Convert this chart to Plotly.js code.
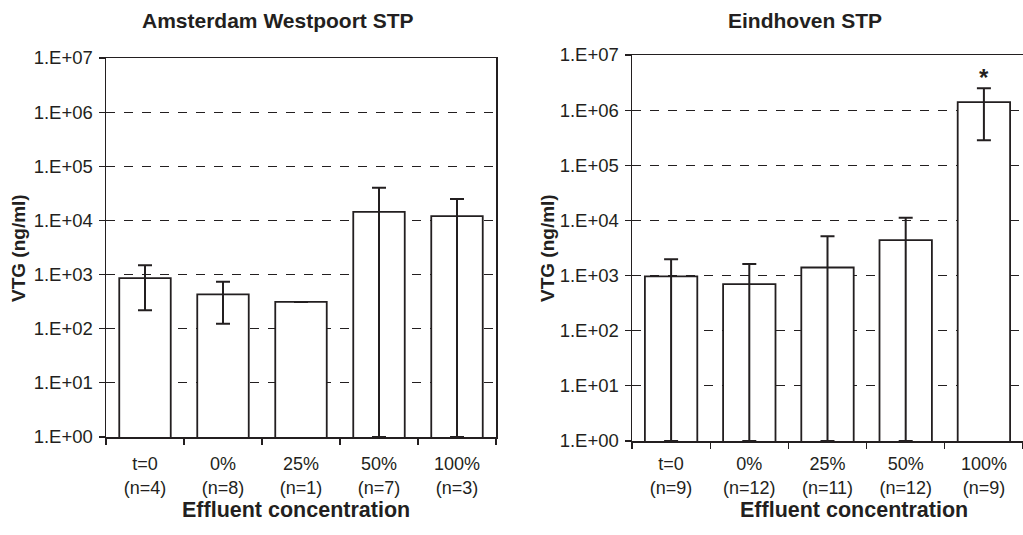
<!DOCTYPE html>
<html>
<head>
<meta charset="utf-8">
<script src="https://cdn.plot.ly/plotly-3.0.1.min.js"></script>
<style>html,body{margin:0;padding:0;background:#fff;overflow:hidden;}#chart{width:1023px;height:535px;}</style>
</head>
<body>
<div id="chart"></div>
<script>
// ---- data ----
const concLabels = ['t=0', '0%', '25%', '50%', '100%'];
const amsN = [4, 8, 1, 7, 3];
const eindN = [9, 12, 11, 12, 9];

// Amsterdam Westpoort STP (VTG ng/ml): mean, upper and lower error bounds
const amsMean  = [860, 430, 313, 14400, 12000];
const amsUpper = [1480, 735, null, 40000, 25000];
const amsLower = [220, 124, null, 1, 1];

// Eindhoven STP
const eindMean  = [970, 700, 1400, 4400, 1400000];
const eindUpper = [1970, 1620, 5150, 11200, 2500000];
const eindLower = [1, 1, 1, 1, 284000];

const yTickVals = [1, 10, 100, 1000, 10000, 100000, 1000000, 10000000];
const yTickText = ['1.E+00', '1.E+01', '1.E+02', '1.E+03', '1.E+04', '1.E+05', '1.E+06', '1.E+07'];

const titles = ['Amsterdam Westpoort STP', 'Eindhoven STP'];
const xTitle = 'Effluent concentration';
const yTitle = 'VTG (ng/ml)';
const sigMark = '*';

// ---- helpers ----
const W = 1023, H = 535;
const px = v => v / W;
const py = v => 1 - v / H;
const FONT = 'Liberation Sans, Arial, sans-serif';
const TXT = '#231f20';

function errPlus(mean, up) { return mean.map((m, i) => up[i] == null ? 0 : up[i] - m); }
function errMinus(mean, lo) { return mean.map((m, i) => lo[i] == null ? 0 : m - lo[i]); }
function tickText(n) { return concLabels.map((c, i) => c + '<br>(n=' + n[i] + ')'); }

function barTrace(mean, up, lo, xa, ya, width) {
  return {
    type: 'bar', x: concLabels, y: mean, xaxis: xa, yaxis: ya,
    width: width,
    marker: { color: '#ffffff', line: { color: '#231f20', width: 1.8 } },
    error_y: {
      type: 'data', symmetric: false,
      array: errPlus(mean, up), arrayminus: errMinus(mean, lo),
      color: '#231f20', thickness: 2, width: 7,
      visible: true
    },
    hoverinfo: 'skip', showlegend: false
  };
}

const data = [
  barTrace(amsMean, amsUpper, amsLower, 'x', 'y', 0.66),
  barTrace(eindMean, eindUpper, eindLower, 'x2', 'y2', 0.67)
];

function xAxis(domain, n, anchor, standoff) {
  return {
    domain: domain, anchor: anchor, type: 'category',
    tickmode: 'array', tickvals: concLabels, ticktext: tickText(n),
    tickson: 'boundaries', ticks: 'outside', ticklen: 6, tickwidth: 1.2, tickcolor: '#231f20',
    showline: true, linecolor: '#231f20', linewidth: 1.5, mirror: true,
    showgrid: false, ticklabelstandoff: standoff,
    tickfont: { family: FONT, size: 18, color: TXT },
    fixedrange: true
  };
}
function yAxis(domain, anchor, mirror) {
  return {
    domain: domain, anchor: anchor, type: 'log', range: [0, 7],
    tickmode: 'array', tickvals: yTickVals, ticktext: yTickText,
    ticks: 'outside', ticklen: 6, tickwidth: 1.2, tickcolor: '#231f20',
    showline: true, linecolor: '#231f20', linewidth: 1.5, mirror: mirror,
    showgrid: true, gridcolor: '#231f20', gridwidth: 1, griddash: 'dash',
    tickfont: { family: FONT, size: 18.5, color: TXT },
    ticklabelstandoff: 2,
    fixedrange: true
  };
}

const layout = {
  width: W, height: H,
  margin: { l: 0, r: 0, t: 0, b: 0 },
  paper_bgcolor: '#ffffff', plot_bgcolor: '#ffffff',
  bargap: 0.34,
  xaxis: xAxis([px(106), px(496)], amsN, 'y', 10),
  yaxis: yAxis([py(437), py(58)], 'x', true),
  xaxis2: xAxis([px(632), 1], eindN, 'y2', 6),
  yaxis2: yAxis([py(441), py(55)], 'x2', false),
  annotations: [
    { text: '<b>' + titles[0] + '</b>', x: px(278), y: py(20), xref: 'paper', yref: 'paper', showarrow: false, xanchor: 'center', yanchor: 'middle', font: { family: FONT, size: 21, color: TXT } },
    { text: '<b>' + titles[1] + '</b>', x: px(805), y: py(20), xref: 'paper', yref: 'paper', showarrow: false, xanchor: 'center', yanchor: 'middle', font: { family: FONT, size: 21, color: TXT } },
    { text: '<b>' + xTitle + '</b>', x: px(296), y: py(510), xref: 'paper', yref: 'paper', showarrow: false, xanchor: 'center', yanchor: 'middle', font: { family: FONT, size: 21.5, color: TXT } },
    { text: '<b>' + xTitle + '</b>', x: px(854), y: py(510), xref: 'paper', yref: 'paper', showarrow: false, xanchor: 'center', yanchor: 'middle', font: { family: FONT, size: 21.5, color: TXT } },
    { text: '<b>' + yTitle + '</b>', x: px(18), y: py(248), xref: 'paper', yref: 'paper', showarrow: false, textangle: -90, xanchor: 'center', yanchor: 'middle', font: { family: FONT, size: 19, color: TXT } },
    { text: '<b>' + yTitle + '</b>', x: px(547), y: py(248), xref: 'paper', yref: 'paper', showarrow: false, textangle: -90, xanchor: 'center', yanchor: 'middle', font: { family: FONT, size: 19, color: TXT } },
    { text: '<b>' + sigMark + '</b>', x: concLabels[4], y: Math.log10(eindUpper[4]), xref: 'x2', yref: 'y2', showarrow: false, xanchor: 'center', yanchor: 'bottom', yshift: -5, font: { family: FONT, size: 24, color: TXT } }
  ]
};

Plotly.newPlot('chart', data, layout, { staticPlot: true, displayModeBar: false });
</script>
</body>
</html>
